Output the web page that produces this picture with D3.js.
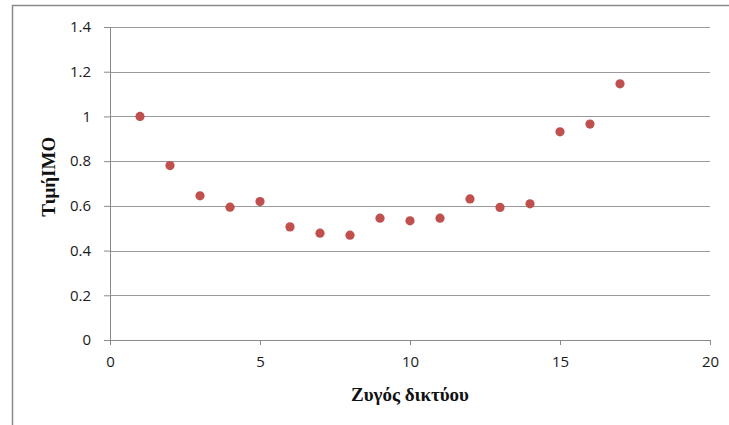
<!DOCTYPE html>
<html>
<head>
<meta charset="utf-8">
<script src="https://cdn.jsdelivr.net/npm/d3@7"></script>
<style>
  body { margin: 0; background: #fff; }
  svg { display: block; }
</style>
</head>
<body>
<div id="chart"></div>
<script>
'use strict';

// network balance (x) vs IMO value (y)
var xValues = [1, 2, 3, 4, 5, 6, 7, 8, 9, 10, 11, 12, 13, 14, 15, 16, 17];
var yValues = [1.0, 0.78, 0.645, 0.594, 0.619, 0.506, 0.478, 0.469, 0.545, 0.533, 0.545, 0.631, 0.593, 0.609, 0.931, 0.966, 1.146];
var xTicks = [0, 5, 10, 15, 20];
var yTicks = [0, 0.2, 0.4, 0.6, 0.8, 1, 1.2, 1.4];
var xTitle = 'Ζυγός δικτύου';
var yTitle = 'ΤιμήIMO';

var width = 729, height = 425;
var margin = { top: 27, right: 19, bottom: 85, left: 110 };
var w = width - margin.left - margin.right;
var h = height - margin.top - margin.bottom;

var svg = d3.select('#chart').append('svg').attr('width', width).attr('height', height);

// outer chart frame
svg.append('rect').attr('x', 12.5).attr('y', 5.5).attr('width', 730).attr('height', 430)
  .attr('fill', '#fff').attr('stroke', '#8a8a8a').attr('stroke-width', 1.5);

var g = svg.append('g').attr('transform', 'translate(' + margin.left + ',' + margin.top + ')');

var x = d3.scaleLinear().domain([0, 20]).range([0, w]);
var y = d3.scaleLinear().domain([0, 1.4]).range([h, 0]);

// gridlines
g.append('g').selectAll('line').data(yTicks.slice(1)).enter().append('line')
  .attr('x1', 0).attr('x2', w)
  .attr('y1', function (d) { return Math.round(y(d)) + 0.5; })
  .attr('y2', function (d) { return Math.round(y(d)) + 0.5; })
  .attr('stroke', '#9a9a9a').attr('stroke-width', 1);

var tickFont = '15px "Open Sans", sans-serif';

var xAxis = d3.axisBottom(x).tickValues(xTicks).tickFormat(d3.format('d')).tickSize(5).tickPadding(11);
var yAxis = d3.axisLeft(y).tickValues(yTicks).tickFormat(function (d) { return String(+d.toFixed(1)); }).tickSize(6).tickPadding(13);

var xg = g.append('g').attr('transform', 'translate(0,' + h + ')').call(xAxis);
var yg = g.append('g').call(yAxis);

[xg, yg].forEach(function (a) {
  a.selectAll('path, line').attr('stroke', '#8a8a8a');
  a.selectAll('text').style('font', tickFont).attr('fill', '#1a1a1a');
});
xg.select('.domain').attr('d', 'M0.5,0.5H' + (w + 0.5));
yg.select('.domain').attr('d', 'M0.5,0.5V' + (h + 0.5));

// points
var pts = xValues.map(function (d, i) { return { x: d, y: yValues[i] }; });
g.append('g').selectAll('circle').data(pts).enter().append('circle')
  .attr('cx', function (d) { return x(d.x); })
  .attr('cy', function (d) { return y(d.y); })
  .attr('r', 4.6)
  .attr('fill', '#c0504d');

// titles
svg.append('text').attr('x', margin.left + x(10)).attr('y', 401)
  .attr('text-anchor', 'middle')
  .style('font', 'bold 19px "Liberation Serif", serif').attr('fill', '#111')
  .text(xTitle);

svg.append('text')
  .attr('transform', 'translate(55,' + (margin.top + y(0.73)) + ') rotate(-90)')
  .attr('text-anchor', 'middle')
  .style('font', 'bold 19px "Liberation Serif", serif').attr('fill', '#111')
  .text(yTitle);
</script>
</body>
</html>
